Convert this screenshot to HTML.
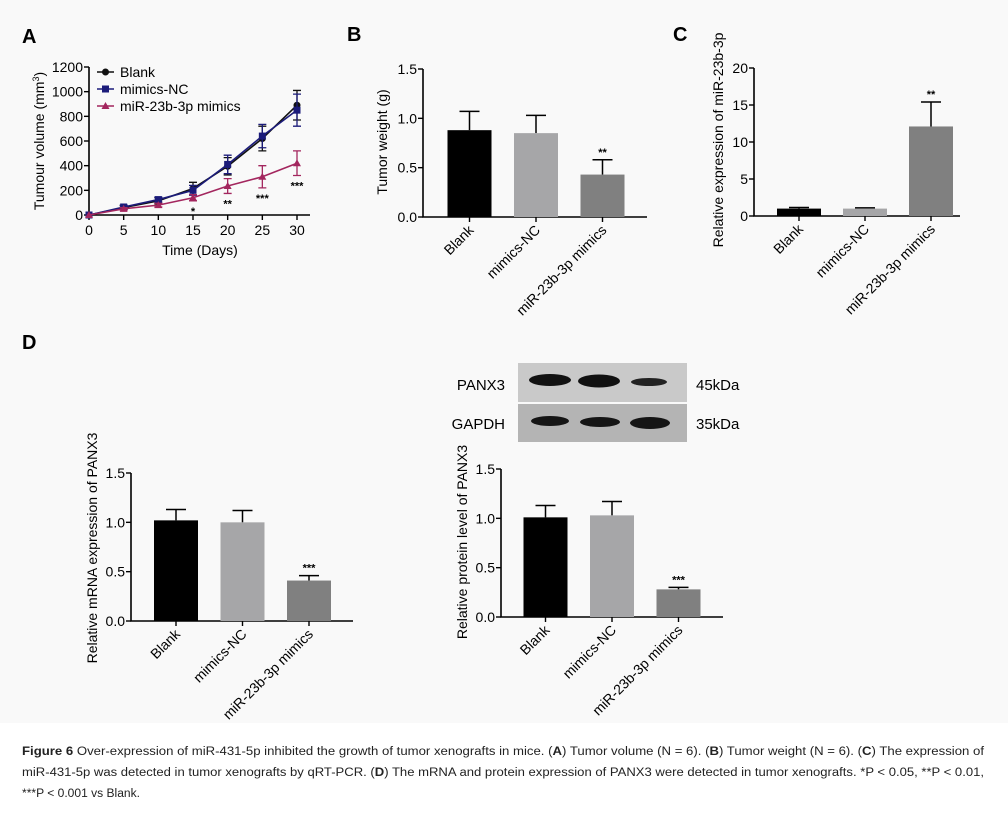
<!DOCTYPE html>
<html><head><meta charset="utf-8"><style>
body{margin:0;background:#fff;}
svg{display:block;font-family:"Liberation Sans",sans-serif;}
</style></head><body>
<svg id="fig" width="1008" height="821" viewBox="0 0 1008 821">
<rect x="0" y="0" width="1008" height="723" fill="#f9f9f9"/>
<g font-weight="bold" font-size="20">
<text x="22" y="43">A</text>
<text x="347" y="41">B</text>
<text x="673" y="41">C</text>
<text x="22" y="349">D</text>
</g>
<g id="blot">
<rect x="518" y="363" width="169" height="39" fill="#c9c9c9"/>
<rect x="518" y="404" width="169" height="38" fill="#b4b4b4"/>
<ellipse cx="550" cy="380" rx="21" ry="6" fill="#111"/>
<ellipse cx="599" cy="381" rx="21" ry="6.5" fill="#111"/>
<ellipse cx="649" cy="382" rx="18" ry="4" fill="#222"/>
<ellipse cx="550" cy="421" rx="19" ry="5" fill="#151515"/>
<ellipse cx="600" cy="422" rx="20" ry="5" fill="#151515"/>
<ellipse cx="650" cy="423" rx="20" ry="6" fill="#151515"/>
<text x="505" y="390" font-size="15" text-anchor="end">PANX3</text>
<text x="505" y="429" font-size="15" text-anchor="end">GAPDH</text>
<text x="696" y="390" font-size="15">45kDa</text>
<text x="696" y="429" font-size="15">35kDa</text>
</g>
<g font-size="11.5" fill="#222">
<text x="22" y="755" textLength="962" lengthAdjust="spacingAndGlyphs"><tspan font-weight="bold">Figure 6</tspan> Over-expression of miR-431-5p inhibited the growth of tumor xenografts in mice. (<tspan font-weight="bold">A</tspan>) Tumor volume (N = 6). (<tspan font-weight="bold">B</tspan>) Tumor weight (N = 6). (<tspan font-weight="bold">C</tspan>) The expression of</text>
<text x="22" y="776" textLength="962" lengthAdjust="spacingAndGlyphs">miR-431-5p was detected in tumor xenografts by qRT-PCR. (<tspan font-weight="bold">D</tspan>) The mRNA and protein expression of PANX3 were detected in tumor xenografts. *P &lt; 0.05, **P &lt; 0.01,</text>
<text x="22" y="797" textLength="118" lengthAdjust="spacingAndGlyphs">***P &lt; 0.001 vs Blank.</text>
</g>
</svg>
<script>
const days = [0,5,10,15,20,25,30];
const blankVol = [0,60,115,215,395,620,890];
const blankErr = [0,15,25,50,70,100,120];
const ncVol = [0,65,125,200,410,640,850];
const ncErr = [0,15,20,40,75,95,130];
const mimVol = [0,50,80,140,235,310,420];
const mimErr = [0,10,15,25,60,90,100];
const mimSig = ["","","","*","**","***","***"];
const aYTicks = [0,200,400,600,800,1000,1200];
const aXTicks = [0,5,10,15,20,25,30];

const barCats = ["Blank","mimics-NC","miR-23b-3p mimics"];
const bVals = [0.88,0.85,0.43];
const bErrs = [0.19,0.18,0.15];
const bSig = ["","","**"];
const bTicks = ["0.0","0.5","1.0","1.5"];
const cVals = [1.0,1.0,12.1];
const cErrs = [0.15,0.1,3.3];
const cSig = ["","","**"];
const cTicks = ["0","5","10","15","20"];
const dlVals = [1.02,1.0,0.41];
const dlErrs = [0.11,0.12,0.05];
const dlSig = ["","","***"];
const dlTicks = ["0.0","0.5","1.0","1.5"];
const drVals = [1.01,1.03,0.28];
const drErrs = [0.12,0.14,0.02];
const drSig = ["","","***"];
const drTicks = ["0.0","0.5","1.0","1.5"];

const NS="http://www.w3.org/2000/svg";
const svg=document.getElementById('fig');
function mk(tag,attrs,parent,text){const e=document.createElementNS(NS,tag);for(const k in attrs)e.setAttribute(k,attrs[k]);if(text!==undefined)e.textContent=text;(parent||svg).appendChild(e);return e;}

// ---- Panel A
(function(){
  const g=mk('g',{});
  
  
  const x0=89,x1=297,y0=215,y1=67;
  const sx=v=>x0+(v-0)/(30-0)*(x1-x0);
  const sy=v=>y0-(v/1200)*(y0-y1);
  const ax=mk('path',{d:`M${x0},${y1} V${y0} H310`,stroke:'#000','stroke-width':1.6,fill:'none'},g);
  
  
  aYTicks.forEach(t=>{
    mk('line',{x1:x0-5,x2:x0,y1:sy(t),y2:sy(t),stroke:'#000','stroke-width':1.4},g);
    const tl=mk('text',{x:x0-6,y:sy(t)+5,'font-size':14,'text-anchor':'end'},g,String(t));
    
    
  });
  aXTicks.forEach(t=>{
    mk('line',{x1:sx(t),x2:sx(t),y1:y0,y2:y0+5,stroke:'#000','stroke-width':1.4},g);
    const tl=mk('text',{x:sx(t),y:y0+20,'font-size':14,'text-anchor':'middle'},g,String(t));
    
    
  });
  const xt=mk('text',{x:200,y:255,'font-size':14,'text-anchor':'middle'},g,'Time (Days)');
  
  
  const yt=mk('text',{transform:'translate(44,141) rotate(-90)','font-size':14,'text-anchor':'middle'},g);
  
  
  yt.innerHTML='Tumour volume (mm<tspan dy="-5" font-size="9">3</tspan><tspan dy="5">)</tspan>';
  const series=[[blankVol,blankErr,'#111','circle','blank'],[ncVol,ncErr,'#1c1c7a','square','mimics-nc'],[mimVol,mimErr,'#a3265e','triangle','mir-23b-3p-mimics']];
  series.forEach(([vals,errs,col,shape,nm])=>{
    const sg=mk('g',{},g);
    
    
    const ln=mk('polyline',{points:vals.map((v,i)=>sx(days[i])+','+sy(vals[i])).join(' '),stroke:col,'stroke-width':1.6,fill:'none'},sg);
    
    
    vals.forEach((v,i)=>{
      const x=sx(days[i]);
      if(errs[i]>0){
        const eb=mk('path',{d:`M${x},${sy(v-errs[i])} V${sy(v+errs[i])} M${x-4},${sy(v+errs[i])} H${x+4} M${x-4},${sy(v-errs[i])} H${x+4}`,stroke:col,'stroke-width':1.3,fill:'none'},sg);
        
        
      }
      let m;
      if(shape==='circle')m=mk('circle',{cx:x,cy:sy(v),r:3.5,fill:col},sg);
      else if(shape==='square')m=mk('rect',{x:x-3.5,y:sy(v)-3.5,width:7,height:7,fill:col},sg);
      else m=mk('path',{d:`M${x},${sy(v)-4} L${x+4},${sy(v)+3} L${x-4},${sy(v)+3}Z`,fill:col},sg);
      
      
    });
  });
  mimSig.forEach((s,i)=>{
    if(!s)return;
    const t=mk('text',{x:sx(days[i]),y:sy(mimVol[i]-mimErr[i])+14,'font-size':11,'font-weight':'bold','text-anchor':'middle'},g,s);
    
    
  });
  const leg=mk('g',{},g);
  
  
  [['Blank','#111','circle'],['mimics-NC','#1c1c7a','square'],['miR-23b-3p mimics','#a3265e','triangle']].forEach(([lab,col,shape],i)=>{
    const y=72+i*17;
    const e=mk('g',{},leg);
    
    
    mk('line',{x1:97,x2:114,y1:y,y2:y,stroke:col,'stroke-width':1.6},e);
    if(shape==='circle')mk('circle',{cx:105.5,cy:y,r:3.5,fill:col},e);
    else if(shape==='square')mk('rect',{x:102,y:y-3.5,width:7,height:7,fill:col},e);
    else mk('path',{d:`M105.5,${y-4} L109.5,${y+3} L101.5,${y+3}Z`,fill:col},e);
    mk('text',{x:120,y:y+5,'font-size':14},e,lab);
  });
})();

// ---- Bar charts
const barColors=['#000','#a6a6a8','#808080'];
function barChart(o){
  const g=mk('g',{});
  
  
  const sy=v=>o.y0-(v/o.max)*(o.y0-o.y1);
  const ax=mk('path',{d:`M${o.x0},${o.y1} V${o.y0} H${o.xEnd}`,stroke:'#000','stroke-width':1.6,fill:'none'},g);
  
  
  o.ticks.forEach(t=>{
    const y=sy(parseFloat(t));
    mk('line',{x1:o.x0-5,x2:o.x0,y1:y,y2:y,stroke:'#000','stroke-width':1.4},g);
    const tl=mk('text',{x:o.x0-6,y:y+5,'font-size':14,'text-anchor':'end'},g,t);
    
    
  });
  o.vals.forEach((v,i)=>{
    const cx=o.c0+i*o.step;
    const top=sy(v);
    const eTop=sy(v+o.errs[i]);
    const eb=mk('path',{d:`M${cx},${top} V${eTop} M${cx-10},${eTop} H${cx+10}`,stroke:'#000','stroke-width':1.5,fill:'none'},g);
    
    
    const r=mk('rect',{x:cx-22,y:top,width:44,height:o.y0-top,fill:barColors[i]},g);
    
    
    mk('line',{x1:cx,x2:cx,y1:o.y0,y2:o.y0+5,stroke:'#000','stroke-width':1.4},g);
    if(o.sig[i]){
      const s=mk('text',{x:cx,y:eTop-4,'font-size':11,'font-weight':'bold','text-anchor':'middle'},g,o.sig[i]);
      
      
    }
    const cl=mk('text',{transform:`translate(${cx+5},${o.y0+14}) rotate(-45)`,'font-size':14,'text-anchor':'end'},g,barCats[i]);
    
    
  });
  const yt=mk('text',{transform:`translate(${o.tx},${o.ty}) rotate(-90)`,'font-size':14,'text-anchor':'middle'},g,o.title);
  
  
}
barChart({name:'panel-b-bar-chart',x0:423,y0:217,y1:69,max:1.5,xEnd:647,c0:469.5,step:66.5,vals:bVals,errs:bErrs,sig:bSig,ticks:bTicks,title:'Tumor weight (g)',tx:387,ty:142});
barChart({name:'panel-c-bar-chart',x0:754,y0:216,y1:68,max:20,xEnd:960,c0:799,step:66,vals:cVals,errs:cErrs,sig:cSig,ticks:cTicks,title:'Relative expression of miR-23b-3p',tx:723,ty:140});
barChart({name:'panel-d-mrna-bar-chart',x0:131,y0:621,y1:473,max:1.5,xEnd:353,c0:176,step:66.5,vals:dlVals,errs:dlErrs,sig:dlSig,ticks:dlTicks,title:'Relative mRNA expression of PANX3',tx:97,ty:548});
barChart({name:'panel-d-protein-bar-chart',x0:501,y0:617,y1:469,max:1.5,xEnd:723,c0:545.5,step:66.5,vals:drVals,errs:drErrs,sig:drSig,ticks:drTicks,title:'Relative protein level of PANX3',tx:467,ty:542});
</script>
</body></html>
